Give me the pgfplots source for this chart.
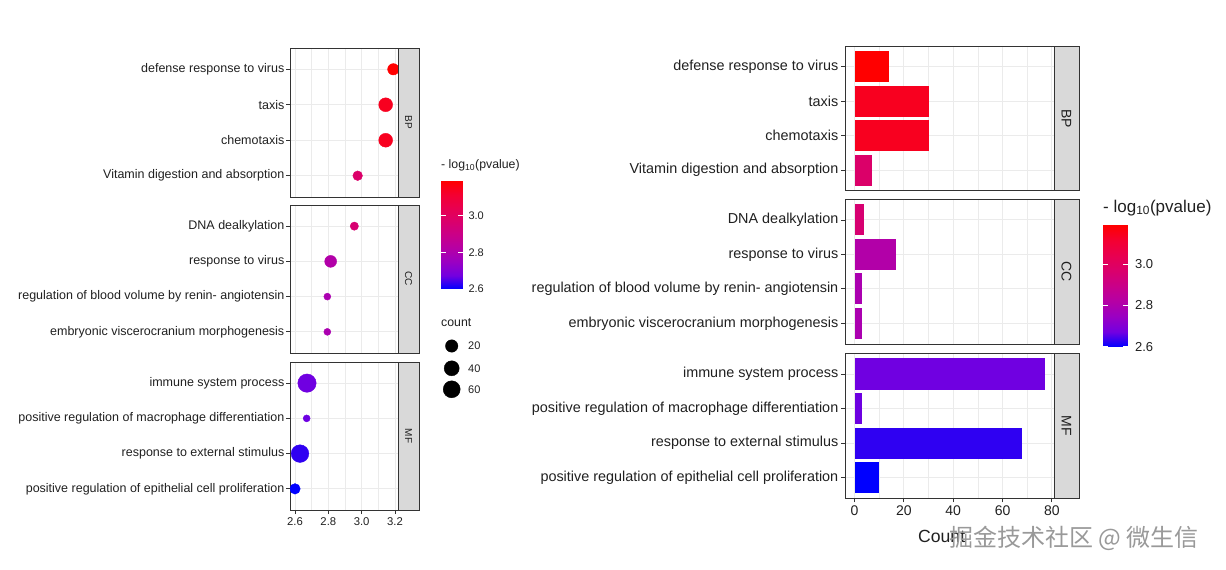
\documentclass[border=0pt]{standalone}
\usepackage{pgfplots}
\pgfplotsset{compat=1.18}
\usepackage{pgfplotstable}
\usepackage{fontspec}
\setmainfont{Liberation Sans}
\newfontfamily\cjk{Noto Sans CJK SC}

\definecolor{gridgrey}{HTML}{EBEBEB}
\definecolor{framegrey}{HTML}{333333}
\definecolor{stripgrey}{HTML}{D9D9D9}
\definecolor{txt}{HTML}{202020}

% bar fills, taken from the same blue-red gradient
\definecolor{cDef}{RGB}{255,0,0}
\definecolor{cTax}{RGB}{248,0,31}
\definecolor{cVit}{RGB}{219,0,105}
\definecolor{cDna}{RGB}{215,0,113}
\definecolor{cRv}{RGB}{178,0,168}
\definecolor{cReg}{RGB}{171,0,176}
\definecolor{cImm}{RGB}{112,0,225}
\definecolor{cMac}{RGB}{109,0,225}
\definecolor{cExt}{RGB}{47,0,242}
\definecolor{cEpi}{RGB}{0,0,255}

% y = row in panel (1 = top), nlp = -log10(pvalue), count
\pgfplotstableread{
y nlp count
1 3.190 14
2 3.144 30
3 3.144 30
4 2.976 7
}\bp
\pgfplotstableread{
y nlp count
1 2.956 4
2 2.814 17
3 2.794 3
4 2.794 3
}\cc
\pgfplotstableread{
y nlp count
1 2.672 77
2 2.670 3
3 2.630 68
4 2.600 10
}\mf
\pgfplotstableread{
x y count
451.7 224.0 20
451.7 201.7 40
451.7 180.7 60
}\sizekey

\pgfplotsset{
  colormap={bluered}{rgb255=(0,0,255) rgb255=(115,0,224) rgb255=(154,0,195)
    rgb255=(181,0,165) rgb255=(201,0,137) rgb255=(218,0,108) rgb255=(232,0,80)
    rgb255=(244,0,49) rgb255=(255,0,0)},
  onedigit/.style={/pgf/number format/fixed, /pgf/number format/fixed zerofill,
    /pgf/number format/precision=1},
  panel/.style={
    scale only axis, anchor=south west,
    axis line style={framegrey, line width=0.9pt},
    grid=both,
    major grid style={gridgrey, line width=1pt},
    minor grid style={gridgrey, line width=0.5pt},
    tick align=outside, xtick pos=bottom, ytick pos=left,
    major tick length=4pt, minor tick length=0pt,
    tick style={framegrey, line width=0.9pt},
    ymin=0.4, ymax=4.6, y dir=reverse, ytick={1,2,3,4},
    /pgf/number format/assume math mode=true,
    tick label style={text=txt},
  },
  dotpanel/.style={panel, width=108pt, xmin=2.57, xmax=3.218,
    xtick={2.6,2.8,3.0,3.2}, minor xtick={2.7,2.9,3.1},
    xticklabel style={font=\fontsize{11.3}{13}\selectfont, onedigit},
    yticklabel style={font=\fontsize{12.5}{14}\selectfont, inner xsep=1.5pt},
    colormap name=bluered, point meta min=2.6, point meta max=3.19,
  },
  barpanel/.style={panel, width=209pt, xmin=-3.85, xmax=80.85,
    xtick={0,20,40,60,80}, minor xtick={10,30,50,70},
    xticklabel style={font=\fontsize{14}{16}\selectfont},
    yticklabel style={font=\fontsize{14.4}{16}\selectfont, inner xsep=2.5pt},
  },
  notx/.style={xmajorticks=false, xticklabels={}},
  dots/.style={scatter, only marks, mark=*, clip marker paths=true,
    point meta=\thisrow{nlp},
    scatter/use mapped color={draw=mapped color, fill=mapped color},
    visualization depends on={3.5+5.7*sqrt((\thisrow{count}-3)/74) \as \msize},
    scatter/@pre marker code/.append style={/tikz/mark size=\msize}},
  bar/.style={xbar, bar width=0.9, bar shift=0pt, draw=none, fill=#1},
  cbar/.style={scale only axis, anchor=south west, enlargelimits=false,
    xmin=0, xmax=1, ymin=2.6, ymax=3.19,
    axis line style={draw=none}, xtick=\empty,
    ytick={2.6,2.8,3.0}, ytick pos=both, yticklabel pos=right,
    tick align=inside, major tick length=4.5pt,
    tick style={white, line width=0.9pt}, axis on top,
    colormap name=bluered, point meta min=2.6, point meta max=3.19,
    /pgf/number format/assume math mode=true,
    yticklabel style={text=txt, onedigit}},
}

\begin{document}
\begin{tikzpicture}
\path[use as bounding box] (0pt,0pt) rectangle (1226pt,570pt);

% ---------------- left: dot plot ----------------
\begin{axis}[dotpanel, notx, at={(290pt,373pt)}, height=149pt,
  yticklabels={defense response to virus, taxis, chemotaxis, Vitamin digestion and absorption}]
  \addplot[dots] table[x=nlp, y=y] {\bp};
\end{axis}
\begin{axis}[dotpanel, notx, at={(290pt,217pt)}, height=148pt,
  yticklabels={DNA dealkylation, response to virus, regulation of blood volume by renin- angiotensin, embryonic viscerocranium morphogenesis}]
  \addplot[dots] table[x=nlp, y=y] {\cc};
\end{axis}
\begin{axis}[dotpanel, at={(290pt,60pt)}, height=148pt,
  yticklabels={immune system process, positive regulation of macrophage differentiation, response to external stimulus, positive regulation of epithelial cell proliferation}]
  \addplot[dots] table[x=nlp, y=y] {\mf};
\end{axis}

\foreach \ya/\yb/\lab in {373/522/BP, 217/365/CC, 60/208/MF}{
  \draw[framegrey, fill=stripgrey, line width=0.9pt] (398pt,\ya pt) rectangle (419pt,\yb pt);
  \node[rotate=-90, text=txt, font=\fontsize{10}{12}\selectfont]
    at (408.5pt,{(\ya+\yb)/2*1pt}) {\lab};
}

% left legends
\node[anchor=west, text=txt, inner sep=0pt, font=\fontsize{12.3}{14}\selectfont]
  at (441pt,405pt) {- log\textsubscript{10}(pvalue)};
\begin{axis}[cbar, at={(441pt,281pt)}, width=21.5pt, height=108pt,
  yticklabel style={font=\fontsize{11}{13}\selectfont, xshift=2.5pt}]
  \addplot[surf, shader=interp, point meta=y, mesh/cols=2]
    coordinates {(0,2.6) (1,2.6) (0,3.19) (1,3.19)};
\end{axis}
\node[anchor=west, text=txt, inner sep=0pt, font=\fontsize{12.3}{14}\selectfont]
  at (441pt,247pt) {count};
\foreach \yy/\lab in {224/20, 201.7/40, 180.7/60}{
  \node[anchor=west, text=txt, inner sep=0pt, font=\fontsize{11}{13}\selectfont]
    at (468pt,\yy pt) {\lab};
}

% ---------------- right: bar plot ----------------
\begin{scope}
\clip (532pt,0pt) rectangle (1226pt,570pt);
\begin{axis}[barpanel, notx, at={(845pt,379.3pt)}, height=144.7pt,
  yticklabels={defense response to virus, taxis, chemotaxis, Vitamin digestion and absorption}]
  \addplot[bar=cDef] coordinates {(14,1)};
  \addplot[bar=cTax] coordinates {(30,2)};
  \addplot[bar=cTax] coordinates {(30,3)};
  \addplot[bar=cVit] coordinates {(7,4)};
\end{axis}
\begin{axis}[barpanel, notx, at={(845pt,226pt)}, height=144.7pt,
  yticklabels={DNA dealkylation, response to virus, regulation of blood volume by renin- angiotensin, embryonic viscerocranium morphogenesis}]
  \addplot[bar=cDna] coordinates {(4,1)};
  \addplot[bar=cRv] coordinates {(17,2)};
  \addplot[bar=cReg] coordinates {(3,3)};
  \addplot[bar=cReg] coordinates {(3,4)};
\end{axis}
\begin{axis}[barpanel, at={(845pt,71.7pt)}, height=145pt,
  yticklabels={immune system process, positive regulation of macrophage differentiation, response to external stimulus, positive regulation of epithelial cell proliferation}]
  \addplot[bar=cImm] coordinates {(77,1)};
  \addplot[bar=cMac] coordinates {(3,2)};
  \addplot[bar=cExt] coordinates {(68,3)};
  \addplot[bar=cEpi] coordinates {(10,4)};
\end{axis}
\end{scope}

\foreach \ya/\yb/\lab in {379.3/524/BP, 226/370.7/CC, 71.7/216.7/MF}{
  \draw[framegrey, fill=stripgrey, line width=0.9pt] (1054pt,\ya pt) rectangle (1079pt,\yb pt);
  \node[rotate=-90, text=txt, font=\fontsize{14}{16}\selectfont]
    at (1066.5pt,{(\ya+\yb)/2*1pt}) {\lab};
}
\node[anchor=west, text=txt, inner sep=0pt, font=\fontsize{17.6}{20}\selectfont]
  at (918pt,34pt) {Count};

% right legend
\node[anchor=west, text=txt, inner sep=0pt, font=\fontsize{17}{20}\selectfont]
  at (1103pt,362pt) {- log\textsubscript{10}(pvalue)};
\begin{axis}[cbar, at={(1103pt,223.3pt)}, width=24.5pt, height=121.7pt,
  yticklabel style={font=\fontsize{13}{15}\selectfont, xshift=4pt}]
  \addplot[surf, shader=interp, point meta=y, mesh/cols=2]
    coordinates {(0,2.6) (1,2.6) (0,3.19) (1,3.19)};
\end{axis}

% size key, drawn in a page-sized hidden axis (1 unit = 1pt)
\begin{axis}[at={(0pt,0pt)}, anchor=south west, scale only axis,
  width=1226pt, height=570pt, xmin=0, xmax=1226, ymin=0, ymax=570,
  hide axis, clip=false]
  \addplot[scatter, only marks, mark=*,
    scatter/use mapped color={draw=black, fill=black},
    visualization depends on={3.5+5.7*sqrt((\thisrow{count}-3)/74) \as \msize},
    scatter/@pre marker code/.append style={/tikz/mark size=\msize}]
    table[x=x, y=y] {\sizekey};
\end{axis}

% watermark
\node[anchor=west, inner sep=0pt, text=black!40, font=\cjk\fontsize{24}{28}\selectfont]
  at (949pt,32pt) {掘金技术社区 @ 微生信};
\end{tikzpicture}
\end{document}
